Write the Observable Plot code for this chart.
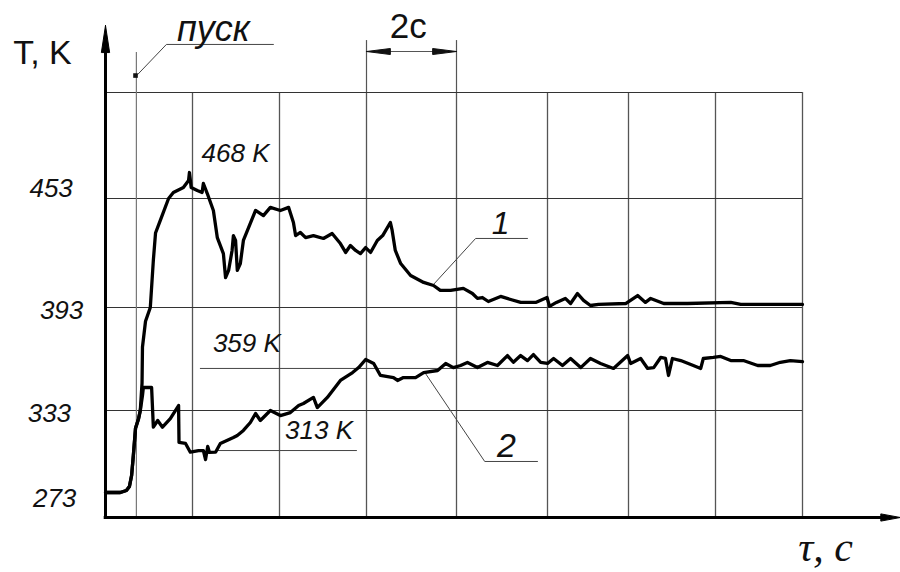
<!DOCTYPE html>
<html><head><meta charset="utf-8">
<script src="https://cdn.jsdelivr.net/npm/d3@7"></script>
<script src="https://cdn.jsdelivr.net/npm/@observablehq/plot@0.6"></script>
<style>html,body{margin:0;padding:0;background:#fff;} #chart svg{display:block;}</style>
</head><body><div id="chart"></div>
<script>
// ---- data (time in s, temperature in K) ----
const timeTicks = [0, 2, 4, 6, 8, 10, 12, 14, 16];
const tempTicks = [273, 333, 393, 453];
const tempTickLabels = ["273", "333", "393", "453"];
const gridTemps = [333, 393, 453, 513];
const startTime = 0.71;           // "пуск"
const curve1Time = [0,0.34,0.48,0.55,0.6,0.64,0.69,0.76,0.8,0.84,0.85,0.92,1.03,1.1,1.15,1.26,1.45,1.56,1.79,1.91,1.93,1.97,2.11,2.22,2.25,2.34,2.48,2.57,2.71,2.76,2.83,2.91,2.94,2.99,3.03,3.1,3.17,3.45,3.63,3.79,4.02,4.21,4.32,4.37,4.48,4.6,4.78,5.01,5.21,5.4,5.52,5.63,5.75,5.86,5.98,6.09,6.24,6.36,6.53,6.57,6.64,6.76,6.98,7.27,7.49,7.64,7.87,8.15,8.35,8.46,8.57,8.7,8.97,9.19,9.41,9.74,9.99,10.05,10.22,10.44,10.57,10.74,10.89,11.06,11.26,11.93,12.21,12.39,12.51,12.81,13.36,14.35,14.58,16];
const curve1Temp = [273,273,274.5,277.4,285.4,300,320,327,333,349,370,385,393,419,434,441,453,456.4,459.2,463.2,467.7,459.2,457.5,456.4,461.5,455.8,446.4,431.5,422.7,409.5,413.4,424.4,432.6,429.9,413.4,417.2,429.9,446.4,443.6,448.1,446.4,448.1,439.8,432.6,434.3,431.5,432.6,431,433.7,428.2,423.3,427.1,424.4,422.7,426,423.3,429.9,432.6,439.8,435.4,424.4,417.2,410.6,406.8,405.1,402.4,402.4,403.5,400.7,398,398.5,396.3,399.1,397.4,395.8,395.8,398.5,393.6,395.8,398,395.2,400.7,396.9,394.1,394.7,395.2,399.6,395.8,398,395.2,395.2,395.8,394.7,394.7];
const curve2Time = [0,0.34,0.48,0.55,0.6,0.64,0.69,0.76,0.8,0.85,0.87,1.06,1.1,1.2,1.31,1.49,1.68,1.69,1.84,1.95,2.14,2.25,2.3,2.35,2.39,2.53,2.64,2.94,3.03,3.17,3.33,3.45,3.56,3.79,4.02,4.25,4.44,4.55,4.78,4.87,5.1,5.4,5.68,5.82,5.98,6.16,6.31,6.6,6.69,6.82,7.09,7.27,7.58,7.76,7.93,8.09,8.24,8.46,8.68,8.9,9.12,9.25,9.41,9.56,9.69,9.85,10,10.15,10.37,10.57,10.82,11.06,11.31,11.63,11.98,12.05,12.28,12.44,12.58,12.74,12.85,12.92,13.01,13.2,13.49,13.66,13.72,13.95,14.12,14.35,14.64,14.97,15.26,15.49,15.72,16];
const curve2Temp = [273,273,274.5,277.4,285.4,300,320,327,333,341.7,346.4,346.4,320.8,325.7,320.8,327,335.9,309.6,308.9,302.5,303.7,303.7,297.1,306.7,302.3,302.5,308.9,313.2,314.7,318.4,324.2,330.8,325.7,333,329.3,331.5,335.9,337.1,340.6,334.7,340.6,350.5,355.1,358,362.7,360.4,353.4,352.2,350.5,352.2,352.2,355.1,356.3,360.4,358,359.2,361,358,361,359.2,365,361.1,365,362.1,365.6,361,360.4,363.3,359.2,363.3,358,363.3,360.4,357.5,365,360.4,363.3,357.5,358,363.9,363.3,353.4,363.3,362.1,359.2,357.5,363.3,363.9,364.5,362.1,362.1,359.2,359.2,361.1,362.1,361.5];

const curve1 = curve1Time.map((t, i) => ({t, T: curve1Temp[i]}));
const curve2 = curve2Time.map((t, i) => ({t, T: curve2Temp[i]}));

const sans = "'Liberation Sans', Arial, sans-serif";
const thin = {stroke: "#444", strokeWidth: 1};
const lbl = (s, x, y, size, extra = {}) =>
  Plot.text([s], {x, y, text: d => d, fontSize: size, fontStyle: "italic", textAnchor: "middle", lineAnchor: "bottom", fill: "#111", ...extra});
const nudge = [{x: -1.17, dy: 6}, {x: -1.29, dy: 3}, {x: -1.01, dy: 3}, {x: -1.25, dy: -10}];

const chart = Plot.plot({
  width: 900, height: 572, margin: 0,
  style: {fontFamily: sans, background: "white"},
  x: {type: "linear", domain: timeTicks, range: [105,192,279,366,456,547,628,715,802], axis: null},
  y: {type: "linear", domain: [255, 273, 333, 393, 453, 513], range: [517, 492, 410, 307, 198, 92], axis: null},
  marks: [
    // grid
    Plot.ruleX(timeTicks.slice(1), {y1: 255, y2: 513, stroke: "#555", strokeWidth: 1.3}),
    Plot.ruleY(gridTemps, {x1: 0, x2: 16, stroke: "#333", strokeWidth: 1.2}),
    // start line
    Plot.ruleX([startTime], {y1: 255, y2: 535.6, stroke: "#777", strokeWidth: 1.2}),
    // "2c" dimension
    Plot.ruleX([6, 8], {y1: 513, y2: 542.4, stroke: "#555", strokeWidth: 1.2}),
    Plot.line([[6, 536.2], [8, 536.2]], {stroke: "#555", strokeWidth: 1.2}),
    Plot.line([[6, 536.2], [6.53, 537.9], [6.53, 534.5], [6, 536.2]], {fill: "#111", stroke: "#111", strokeWidth: 1}),
    Plot.line([[8, 536.2], [7.47, 537.9], [7.47, 534.5], [8, 536.2]], {fill: "#111", stroke: "#111", strokeWidth: 1}),
    lbl("2c", 6.93, 544.1, 35, {fontStyle: "normal"}),
    // reference levels
    Plot.line([[2.18, 357.5], [12.0, 357.5]], thin),
    Plot.line([[2.53, 303.7], [5.77, 303.7]], thin),
    lbl("468 K", 2.99, 473.9, 26),
    lbl("359 K", 3.25, 366.8, 26),
    lbl("313 K", 4.91, 311.8, 26),
    // leaders
    Plot.line([[3.86, 540.2], [1.40, 540.2], [0.74, 523.2]], thin),
    Plot.dot([[0.69, 522.6]], {symbol: "square", r: 2.6, fill: "#111"}),
    lbl("пуск", 2.48, 542.4, 36),
    Plot.line([[9.56, 431], [8.42, 431], [7.49, 405.7]], thin),
    lbl("1", 8.97, 433.7, 32),
    Plot.line([[9.78, 295.7], [8.62, 295.7], [7.31, 354.6]], thin),
    lbl("2", 9.10, 299.3, 34),
    // curves
    Plot.line(curve1, {x: "t", y: "T", stroke: "#000", strokeWidth: 3.3, strokeLinejoin: "round", strokeLinecap: "round"}),
    Plot.line(curve2, {x: "t", y: "T", stroke: "#000", strokeWidth: 3.3, strokeLinejoin: "round", strokeLinecap: "round"}),
    // axes
    Plot.ruleX([0], {y1: 254, y2: 537, stroke: "#000", strokeWidth: 3}),
    Plot.line([[0, 550.9], [-0.095, 535.6], [0.095, 535.6], [0, 550.9]], {fill: "#000", stroke: "#000", strokeWidth: 1}),
    Plot.ruleY([255], {x1: -0.03, x2: 17.9, stroke: "#000", strokeWidth: 3}),
    Plot.line([[18.25, 255], [17.8, 257.6], [17.8, 252.4], [18.25, 255]], {fill: "#000", stroke: "#000", strokeWidth: 1}),
    // tick labels
    ...tempTicks.map((v, i) => Plot.text([v], {x: nudge[i].x, y: d => d, dy: nudge[i].dy, text: () => tempTickLabels[i],
      fontSize: 26, fontStyle: "italic", textAnchor: "middle", lineAnchor: "middle", fill: "#111"})),
    // axis titles
    lbl("T, K", -1.45, 529.4, 34, {fontStyle: "normal"}),
    lbl("τ, c", 16.53, 223.5, 42, {fontFamily: "'Liberation Serif', 'Times New Roman', serif"})
  ]
});
document.getElementById("chart").appendChild(chart);
</script>
</body></html>
